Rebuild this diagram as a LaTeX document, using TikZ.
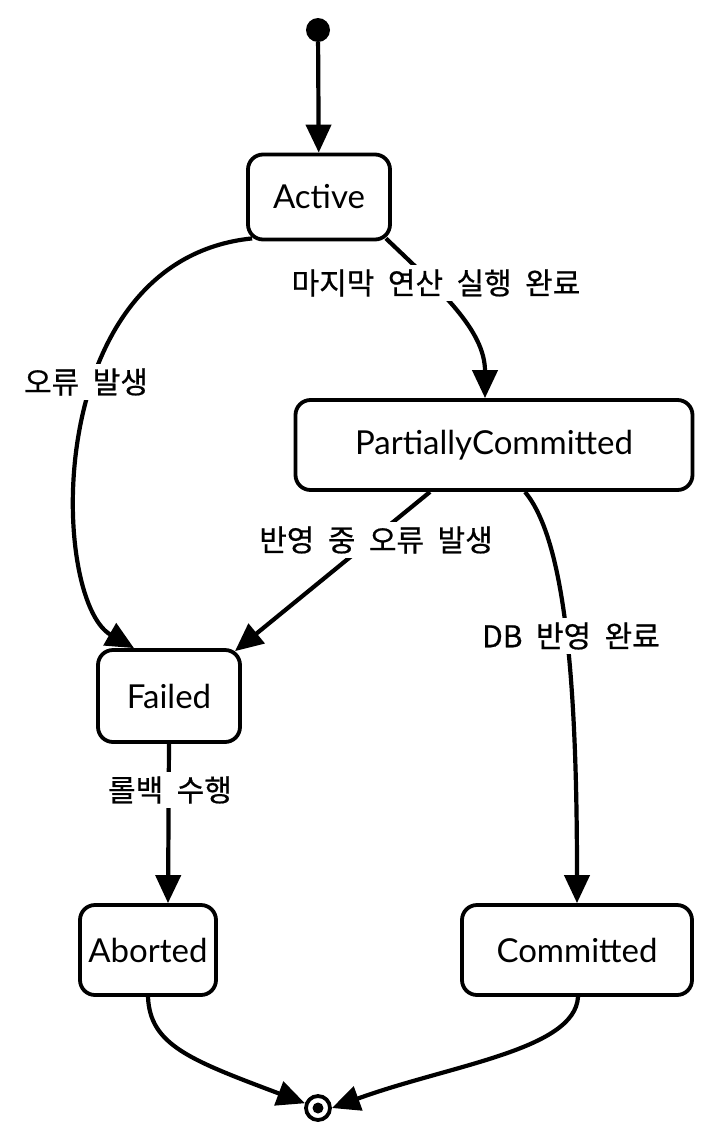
\documentclass[tikz,border=0pt]{standalone}
\usepackage{fontspec}
\setmainfont{Noto Sans CJK KR}[WordSpace=2,FakeBold=0.6]
\newfontfamily\statefont{Lato}
\usetikzlibrary{arrows.meta}
\begin{document}
\begin{tikzpicture}[x=1pt,y=-1pt,
  state/.style={draw, line width=3.8pt, rounded corners=15pt, fill=white,
    font=\statefont\fontsize{33}{36}\selectfont, inner sep=0pt},
  trans/.style={line width=4.2pt, -{Triangle[length=28pt,width=25pt]}},
  lbl/.style={fill=white, font=\fontsize{30}{32}\selectfont, inner sep=4pt}]
\useasboundingbox[fill=white] (0,0) rectangle (712,1144);

\node[circle, fill, minimum size=24pt, inner sep=0pt] (start) at (318,30) {};
\node[state, minimum width=142pt, minimum height=85pt] (active) at (319,197) {Active};
\node[state, minimum width=397pt, minimum height=90pt] (pc) at (494,445) {PartiallyCommitted};
\node[state, minimum width=142pt, minimum height=92pt] (failed) at (169,696) {Failed};
\node[state, minimum width=136pt, minimum height=90pt] (aborted) at (148,950) {Aborted};
\node[state, minimum width=230pt, minimum height=90pt] (committed) at (577,950) {Committed};
\node[circle, draw, line width=3.8pt, fill=white, minimum size=24pt, inner sep=0pt] (end) at (318,1108) {};
\fill (end.center) circle (5.5pt);

\draw[trans] (start) -- (active);
\draw[trans] ([xshift=6pt,yshift=3pt]active.south west) .. controls (40,260) and (50,600) .. ([xshift=-35pt]failed.north);
\draw[trans] ([xshift=-6pt,yshift=3pt]active.south east) .. controls (440,290) and (485,330) .. ([xshift=-9pt]pc.north);
\draw[trans] ([xshift=-64pt]pc.south) -- ([xshift=66pt,yshift=-3pt]failed.north);
\draw[trans] ([xshift=31pt]pc.south) .. controls (565,540) and (577,680) .. (committed.north);
\draw[trans] (failed.south) -- ([xshift=20pt]aborted.north);
\draw[trans] (aborted.south) .. controls (150,1045) and (190,1060) .. (end.160);
\draw[trans] ([xshift=1pt]committed.south) .. controls (575,1050) and (450,1065) .. (end.east);

\node[lbl] (l1) at (86,382) {오류 발생};
\node[lbl] (l2) at (436,283) {마지막 연산 실행 완료};
\node[lbl] (l3) at (376,540) {반영 중 오류 발생};
\node[lbl] (l4) at (571,636) {DB 반영 완료};
\node[lbl] (l5) at (170,790) {롤백 수행};
\end{tikzpicture}
\end{document}
